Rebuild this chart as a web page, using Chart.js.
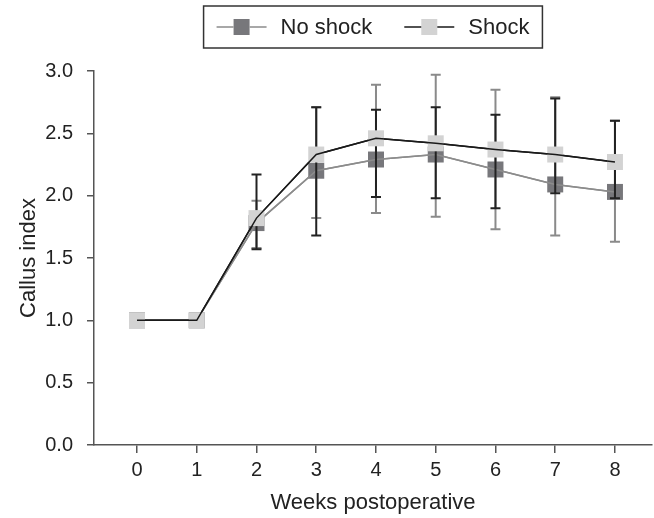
<!DOCTYPE html>
<html>
<head>
<meta charset="utf-8">
<script src="https://cdn.jsdelivr.net/npm/chart.js@4.4.0/dist/chart.umd.min.js"></script>
<style>
  html, body { margin: 0; padding: 0; background: #fff; }
</style>
</head>
<body>
<canvas id="chart" width="654" height="518"></canvas>
<script>
// values
const weeks = [0, 1, 2, 3, 4, 5, 6, 7, 8]
const noShock = [1.0, 1.0, 1.78, 2.20, 2.29, 2.33, 2.21, 2.09, 2.03]
const noShockLow = [1.0, 1.0, 1.58, 1.82, 1.86, 1.83, 1.73, 1.68, 1.63]
const noShockHigh = [1.0, 1.0, 1.96, 2.71, 2.89, 2.97, 2.85, 2.79, 2.60]
const shock = [1.0, 1.0, 1.82, 2.33, 2.46, 2.42, 2.37, 2.33, 2.27]
const shockLow = [1.0, 1.0, 1.57, 1.68, 1.99, 1.98, 1.90, 2.02, 1.98]
const shockHigh = [1.0, 1.0, 2.17, 2.71, 2.69, 2.71, 2.65, 2.78, 2.60]
const yTicks = [0, 0.5, 1, 1.5, 2, 2.5, 3]

const FONT = '"Liberation Sans", Arial, Helvetica, sans-serif'
Chart.defaults.font.family = FONT
Chart.defaults.color = '#222'

// vertical error bars, drawn just before each dataset so markers sit on top;
// the connecting line is re-stroked after the markers, as in the figure
const errorBars = {
  id: 'errorBars',
  beforeDatasetDraw(chart, args) {
    const ds = chart.data.datasets[args.index]
    const x = chart.scales.x, y = chart.scales.y
    const ctx = chart.ctx
    ctx.save()
    ctx.strokeStyle = ds.errColor
    ctx.lineWidth = 2
    ds.data.forEach((p, i) => {
      const lo = ds.errLow[i], hi = ds.errHigh[i]
      if (lo === hi) return
      const px = x.getPixelForValue(p.x)
      const yl = y.getPixelForValue(lo), yh = y.getPixelForValue(hi)
      ctx.beginPath()
      ctx.moveTo(px, yl); ctx.lineTo(px, yh)
      ctx.moveTo(px - 5, yl); ctx.lineTo(px + 5, yl)
      ctx.moveTo(px - 5, yh); ctx.lineTo(px + 5, yh)
      ctx.stroke()
    })
    ctx.restore()
  },
  afterDatasetDraw(chart, args) {
    args.meta.dataset.draw(chart.ctx, chart.chartArea)
  }
}

// boxed legend with line-through-square symbols
const boxedLegend = {
  id: 'boxedLegend',
  afterDraw(chart) {
    const ctx = chart.ctx
    const area = chart.chartArea
    const lineLen = 50, gap = 14, between = 32, padX = 13
    ctx.save()
    ctx.font = '22px ' + FONT
    const items = chart.data.datasets.map(ds => ({ ds, w: ctx.measureText(ds.label).width }))
    let inner = between * (items.length - 1)
    items.forEach(it => { inner += lineLen + gap + it.w })
    const boxW = inner + padX * 2
    const boxX = (area.left + area.right) / 2 - boxW / 2
    const boxY = 6, boxH = 42, cy = boxY + boxH / 2
    ctx.strokeStyle = '#333'
    ctx.lineWidth = 1.5
    ctx.strokeRect(boxX, boxY, boxW, boxH)
    let cx = boxX + padX
    items.forEach(it => {
      const ds = it.ds
      ctx.fillStyle = ds.pointBackgroundColor
      ctx.fillRect(cx + lineLen / 2 - 8, cy - 8, 16, 16)
      ctx.strokeStyle = ds.borderColor
      ctx.lineWidth = ds.borderWidth
      ctx.beginPath()
      ctx.moveTo(cx, cy); ctx.lineTo(cx + lineLen / 2 - 8, cy)
      ctx.moveTo(cx + lineLen / 2 + 8, cy); ctx.lineTo(cx + lineLen, cy)
      ctx.stroke()
      ctx.fillStyle = '#222'
      ctx.textBaseline = 'middle'
      ctx.textAlign = 'left'
      ctx.fillText(ds.label, cx + lineLen + gap, cy + 1)
      cx += lineLen + gap + it.w + between
    })
    ctx.restore()
  }
}

new Chart(document.getElementById('chart'), {
  type: 'line',
  data: {
    datasets: [
      {
        label: 'No shock',
        data: weeks.map((w, i) => ({ x: w, y: noShock[i] })),
        errLow: noShockLow,
        errHigh: noShockHigh,
        errColor: '#8a8a8a',
        borderColor: '#8c8c8c',
        borderWidth: 1.5,
        pointStyle: 'rect',
        pointRadius: 11.3,
        pointBorderWidth: 0,
        pointBackgroundColor: '#77777b',
        order: 2
      },
      {
        label: 'Shock',
        data: weeks.map((w, i) => ({ x: w, y: shock[i] })),
        errLow: shockLow,
        errHigh: shockHigh,
        errColor: '#222',
        borderColor: '#1a1a1a',
        borderWidth: 1.5,
        pointStyle: 'rect',
        pointRadius: 11.3,
        pointBorderWidth: 0,
        pointBackgroundColor: '#d3d3d3',
        order: 1
      }
    ]
  },
  options: {
    responsive: false,
    animation: false,
    layout: { autoPadding: false, padding: { top: 71, right: 2, bottom: 0, left: 0 } },
    plugins: { legend: { display: false }, tooltip: { enabled: false } },
    scales: {
      x: {
        type: 'linear',
        min: -0.72,
        max: 8.62,
        afterBuildTicks: s => { s.ticks = weeks.map(v => ({ value: v })) },
        afterFit: s => { s.height = 73 },
        grid: { drawOnChartArea: false, tickLength: 8, color: '#555', lineWidth: 1.5 },
        border: { color: '#555', width: 1.5 },
        ticks: { padding: 5, font: { size: 20 }, color: '#222', callback: v => String(v) },
        title: { display: true, text: 'Weeks postoperative', font: { size: 22 }, color: '#222', padding: { top: 0, bottom: 2 } }
      },
      y: {
        min: 0,
        max: 3,
        afterBuildTicks: s => { s.ticks = yTicks.map(v => ({ value: v })) },
        afterFit: s => { s.width = 94 },
        grid: { drawOnChartArea: false, tickLength: 7, color: '#555', lineWidth: 1.5 },
        border: { color: '#555', width: 1.5 },
        ticks: { padding: 14, font: { size: 20 }, color: '#222', callback: v => v.toFixed(1) },
        title: { display: true, text: 'Callus index', font: { size: 22 }, color: '#222', padding: { top: 16, bottom: 0 } }
      }
    }
  },
  plugins: [errorBars, boxedLegend]
})
</script>
</body>
</html>
